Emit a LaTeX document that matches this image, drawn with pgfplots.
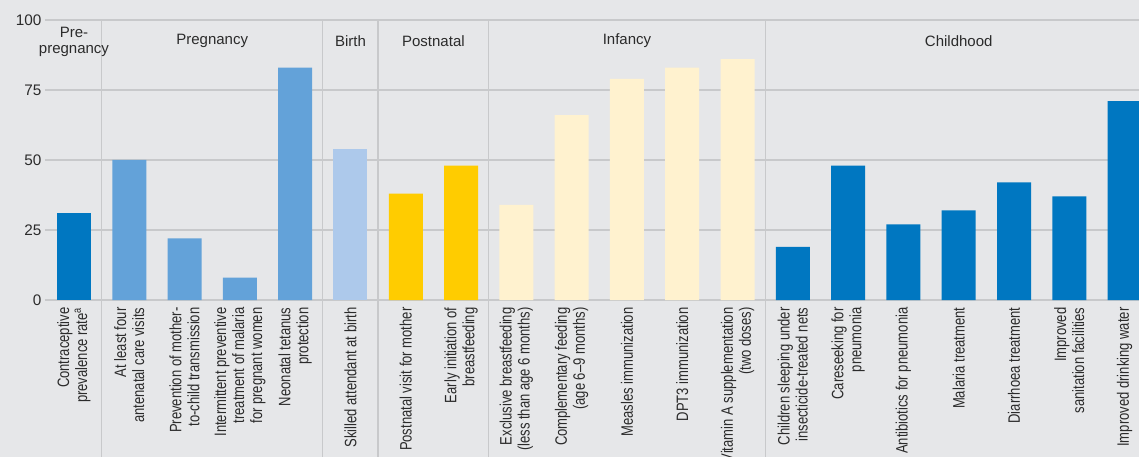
\documentclass[border=0pt]{standalone}
\usepackage{pgfplots}
\pgfplotsset{compat=1.18}
\usepackage{fontspec}
\setmainfont{Liberation Sans}
\newfontfamily\narrowfont[FakeStretch=0.79]{Liberation Sans}
\definecolor{bg}{HTML}{E6E7E9}
\definecolor{gridc}{HTML}{C8C9CB}
\definecolor{txt}{HTML}{2B2B2B}
\definecolor{cdark}{HTML}{0077C1}
\definecolor{cmid}{HTML}{63A2D9}
\definecolor{clight}{HTML}{ADC9EB}
\definecolor{cyel}{HTML}{FFCC00}
\definecolor{ccream}{HTML}{FFF2CF}
\begin{document}
\begin{tikzpicture}
\fill[bg] (-45pt,-157pt) rectangle (1094pt,300pt);
\begin{axis}[
  scale only axis, width=1094pt, height=280pt,
  xmin=-0.524, xmax=19.26, ymin=0, ymax=100,
  axis line style={draw=none}, tick style={draw=none},
  ytick={0,25,50,75,100},
  /pgf/number format/assume math mode=true,
  ymajorgrids, grid style={gridc, line width=1.3pt},
  xtick={0,...,19},
  xticklabels={
    {Contraceptive\\prevalence rate\textsuperscript{a}},
    {At least four\\antenatal care visits},
    {Prevention of mother-\\to-child transmission},
    {Intermittent preventive\\treatment of malaria\\for pregnant women},
    {Neonatal tetanus\\protection},
    {Skilled attendant at birth},
    {Postnatal visit for mother},
    {Early initiation of\\breastfeeding},
    {Exclusive breastfeeding\\(less than age 6 months)},
    {Complementary feeding\\(age 6–9 months)},
    {Measles immunization},
    {DPT3 immunization},
    {Vitamin A supplementation\\(two doses)},
    {Children sleeping under\\insecticide-treated nets},
    {Careseeking for\\pneumonia},
    {Antibiotics for pneumonia},
    {Malaria treatment},
    {Diarrhoea treatment},
    {Improved\\sanitation facilities},
    {Improved drinking water}},
  xticklabel shift=4pt,
  xticklabel style={rotate=90, anchor=east, align=right, text=txt,
    font=\narrowfont\fontsize{16.5}{18}\selectfont},
  yticklabel style={text=txt, font=\fontsize{15.3}{18}\selectfont},
  clip=false,
]
\addplot[ybar, bar width=34pt, bar shift=0pt, fill=cdark, draw=none] coordinates {(0,31)};
\addplot[ybar, bar width=34pt, bar shift=0pt, fill=cmid, draw=none] coordinates {(1,50) (2,22) (3,8) (4,83)};
\addplot[ybar, bar width=34pt, bar shift=0pt, fill=clight, draw=none] coordinates {(5,54)};
\addplot[ybar, bar width=34pt, bar shift=0pt, fill=cyel, draw=none] coordinates {(6,38) (7,48)};
\addplot[ybar, bar width=34pt, bar shift=0pt, fill=ccream, draw=none] coordinates {(8,34) (9,66) (10,79) (11,83) (12,86)};
\addplot[ybar, bar width=34pt, bar shift=0pt, fill=cdark, draw=none] coordinates {(13,19) (14,48) (15,27) (16,32) (17,42) (18,37) (19,71)};
\foreach \s in {0.5,4.5,5.5,7.5,12.5}{
  \edef\tmp{\noexpand\draw[gridc, line width=1.3pt] (axis cs:\s,100) -- (axis cs:\s,-56.1);}\tmp
}
\begin{scope}[every node/.style={text=txt, font=\fontsize{15}{16}\selectfont, align=center}]
\node at (axis cs:0,92.2) {Pre-\\pregnancy};
\node at (axis cs:2.5,92.5) {Pregnancy};
\node at (axis cs:5,92.5) {Birth};
\node at (axis cs:6.5,92.5) {Postnatal};
\node at (axis cs:10,92.5) {Infancy};
\node at (axis cs:16,92.5) {Childhood};
\end{scope}
\end{axis}
\pgfresetboundingbox
\path (-45pt,-157pt) rectangle (1094pt,300pt);
\end{tikzpicture}
\end{document}
